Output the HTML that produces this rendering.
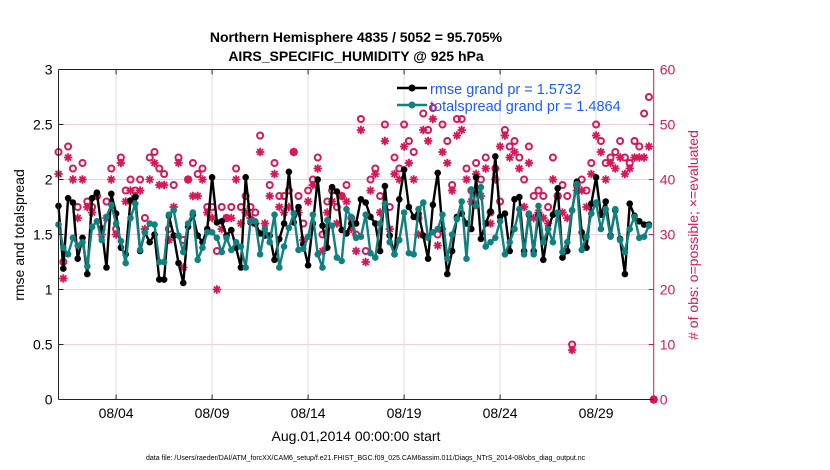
<!DOCTYPE html>
<html><head><meta charset="utf-8"><style>
body{margin:0;background:#fff;}
svg{display:block;font-family:"Liberation Sans",sans-serif;}
</style></head><body>
<svg id="chart" width="830" height="470" viewBox="0 0 830 470" xmlns="http://www.w3.org/2000/svg">
<text x="356" y="42" text-anchor="middle" font-size="14" font-weight="bold">Northern Hemisphere 4835 / 5052 = 95.705%</text>
<text x="356" y="61" text-anchor="middle" font-size="14" font-weight="bold">AIRS_SPECIFIC_HUMIDITY @ 925 hPa</text>
<g id="grid"></g>
<g id="marks"></g>
<g id="axes"></g>
<text transform="translate(24,235) rotate(-90)" text-anchor="middle" font-size="14">rmse and totalspread</text>
<text transform="translate(698,235) rotate(-90)" text-anchor="middle" font-size="14" fill="#d6175a"># of obs: o=possible; ×=evaluated</text>
<text x="356" y="441" text-anchor="middle" font-size="14">Aug.01,2014 00:00:00 start</text>
<text x="146" y="460" font-size="7">data file: /Users/raeder/DAI/ATM_forcXX/CAM6_setup/f.e21.FHIST_BGC.f09_025.CAM6assim.011/Diags_NTrS_2014-08/obs_diag_output.nc</text>
<g id="legend"></g>
</svg>
<script>
const rmse=[1.76,1.19,1.83,1.79,1.28,1.47,1.14,1.83,1.88,1.55,1.2,1.87,1.69,1.38,1.32,1.81,1.84,1.35,1.52,1.43,1.5,1.09,1.09,1.67,1.49,1.24,1.06,1.57,1.68,1.49,1.43,1.55,
2.02,1.61,1.62,1.49,1.54,1.38,1.2,2.02,1.61,1.6,1.51,1.49,1.49,1.27,1.46,1.6,2.07,1.61,1.75,1.41,1.22,1.6,2.0,1.58,1.38,1.93,1.89,1.54,1.51,1.6,
1.6,1.82,1.79,1.66,1.6,1.35,1.94,1.49,1.32,1.82,2.09,1.75,1.66,1.69,1.49,1.28,1.77,2.06,1.55,1.14,1.35,1.66,1.69,1.6,1.55,2.02,1.46,1.6,1.71,2.21,1.66,
1.69,1.35,1.82,1.84,1.35,1.68,1.35,1.68,1.27,1.55,1.68,1.92,1.29,1.35,1.72,1.98,1.52,1.38,1.78,2.02,1.68,1.8,1.49,1.72,1.46,1.14,1.78,1.67,1.62,1.59,1.59];
const spread=[1.59,1.38,1.32,1.47,1.4,1.43,1.21,1.57,1.62,1.45,1.66,1.77,1.6,1.44,1.24,1.65,1.78,1.36,1.52,1.6,1.59,1.25,1.25,1.68,1.72,1.49,1.34,1.6,1.7,1.27,1.38,1.52,
1.52,1.47,1.34,1.47,1.36,1.43,1.39,1.2,1.62,1.62,1.32,1.55,1.43,1.68,1.2,1.39,1.56,1.69,1.36,1.37,1.48,1.68,1.32,1.2,1.63,1.58,1.29,1.26,1.73,1.66,
1.47,1.48,1.68,1.33,1.29,1.6,1.78,1.43,1.32,1.45,1.7,1.33,1.32,1.73,1.79,1.47,1.52,1.55,1.68,1.28,1.5,1.64,1.8,1.28,1.91,1.76,1.93,1.39,1.43,1.47,1.62,
1.32,1.43,1.55,1.73,1.32,1.69,1.32,1.76,1.43,1.55,1.43,1.7,1.34,1.43,1.72,1.96,1.36,1.48,1.69,1.79,1.55,1.73,1.48,1.73,1.45,1.34,1.55,1.66,1.47,1.48,1.58];
const possible=[45,25,46,42,35,43,36,35,37,31,36,42,31,44,38,40,38,40,33,44,45,42,41,31,39,44,29,40,43,41,42,35,
35,27,35,33,35,42,35,37,35,34,48,30,39,43,37,37,38,45,37,32,38,40,44,30,36,38,35,37,39,33,
30,51,27,40,42,37,50,35,44,42,50,47,45,33,52,49,53,30,50,47,39,51,51,42,38,43,40,44,34,42,36,
49,46,47,44,40,46,37,38,37,35,44,37,39,37,10,39,40,38,43,50,47,43,44,45,47,44,43,47,46,52,55,0];
const evaluated=[41,22,44,40,33,40,35,34,37,30,33,40,30,43,36,38,37,38,31,40,43,39,39,29,35,43,24,40,37,37,40,34,
33,20,31,33,33,40,32,34,33,32,45,32,37,41,35,34,35,45,34,29,36,39,42,27,34,36,32,37,36,31,
27,49,25,38,41,34,47,31,41,40,46,43,40,30,49,47,51,28,45,43,38,48,49,40,36,41,37,42,32,40,46,
48,44,45,42,35,43,33,34,33,32,40,37,34,33,9,38,38,35,41,48,45,40,43,42,44,41,42,44,44,44,46,0];
const leftTicks=[0,0.5,1,1.5,2,2.5,3];
const rightTicks=[0,10,20,30,40,50,60];
const dateTicks=["08/04","08/09","08/14","08/19","08/24","08/29"];
const dateTickDays=[3,8,13,18,23,28];
const legendLabels=["rmse grand pr = 1.5732","totalspread grand pr = 1.4864"];

const X0=58.5,PXDAY=19.2,XR=653.7,YT=69.5,YB=399.5;
const xDay=d=>X0+d*PXDAY;
const xIdx=i=>xDay(i*0.25);
const yL=v=>YB-(v/3)*(YB-YT);
const yR=v=>YB-(v/60)*(YB-YT);
const NS="http://www.w3.org/2000/svg";
const MAG="#d6175a",TEAL="#10817f";
function mk(tag,attrs,parent){const e=document.createElementNS(NS,tag);for(const k in attrs)e.setAttribute(k,attrs[k]);parent.appendChild(e);return e;}
const grid=document.getElementById('grid'),marks=document.getElementById('marks'),axes=document.getElementById('axes'),legend=document.getElementById('legend');

leftTicks.forEach(v=>{
  const g=mk('line',{x1:X0,x2:XR,y1:yL(v),y2:yL(v),stroke:'#f3cddb','stroke-width':1},grid);
  
  
  const t=mk('text',{x:X0-6,y:yL(v)+5,'text-anchor':'end','font-size':14},axes);
  t.textContent=v;
  
  
  const tk=mk('line',{x1:X0,x2:X0+5,y1:yL(v),y2:yL(v),stroke:'#222'},axes);
  
  
});
rightTicks.forEach(v=>{
  const t=mk('text',{x:XR+6,y:yR(v)+5,'font-size':14,fill:MAG},axes);
  t.textContent=v;
  
  
  const tk=mk('line',{x1:XR-5,x2:XR,y1:yR(v),y2:yR(v),stroke:MAG},axes);
  
  
});
dateTicks.forEach((lab,k)=>{
  const x=xDay(dateTickDays[k]);
  const g=mk('line',{x1:x,x2:x,y1:YT,y2:YB,stroke:'#dedede'},grid);
  
  
  const t=mk('text',{x:x,y:418,'text-anchor':'middle','font-size':14},axes);
  t.textContent=lab;
  
  
  const tk=mk('line',{x1:x,x2:x,y1:YB,y2:YB-5,stroke:'#222'},axes);
  
  
  const tk2=mk('line',{x1:x,x2:x,y1:YT,y2:YT+5,stroke:'#222'},axes);
  
  
});
const frame=mk('path',{d:`M${X0},${YB}H${XR}M${X0},${YT}H${XR}M${X0},${YT}V${YB}`,stroke:'#222',fill:'none','stroke-width':1},axes);


const ra=mk('line',{x1:XR,x2:XR,y1:YT,y2:YB,stroke:MAG},axes);



possible.forEach((v,i)=>{
  const c=mk('circle',{cx:xIdx(i),cy:yR(v),r:3,fill:'none',stroke:MAG,'stroke-width':2},marks);
  
  
});
evaluated.forEach((v,i)=>{
  const x=xIdx(i),y=yR(v),s=4.2,d=3;
  const p=mk('path',{d:`M${x-s},${y}H${x+s}M${x},${y-s}V${y+s}M${x-d},${y-d}L${x+d},${y+d}M${x-d},${y+d}L${x+d},${y-d}`,stroke:MAG,'stroke-width':1.8},marks);
  
  
});
function series(arr,color,name){
  const pl=mk('polyline',{points:arr.map((v,i)=>xIdx(i)+','+yL(v)).join(' '),fill:'none',stroke:color,'stroke-width':2.4,'stroke-linejoin':'round'},marks);
  
  
  arr.forEach((v,i)=>{
    const c=mk('circle',{cx:xIdx(i),cy:yL(v),r:3.3,fill:color},marks);
    
    
  });
}
series(rmse,'#000','rmse');
series(spread,TEAL,'totalspread');

[['#000',93],[TEAL,110]].forEach((c,k)=>{
  const l=mk('line',{x1:397,x2:427,y1:c[1]-5,y2:c[1]-5,stroke:c[0],'stroke-width':2.6},legend);
  
  
  const d=mk('circle',{cx:412,cy:c[1]-5,r:3.5,fill:c[0]},legend);
  
  
  const t=mk('text',{x:430,y:c[1]+1,'font-size':14.5,fill:'#1a5cff'},legend);
  t.textContent=legendLabels[k];
  
  
});
</script>
</body></html>
